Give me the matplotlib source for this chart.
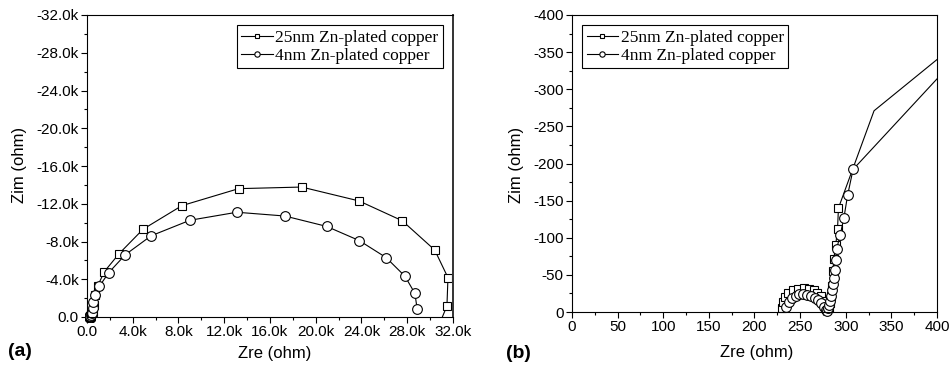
import matplotlib.pyplot as plt
import numpy as np
from matplotlib.lines import Line2D
from matplotlib.ticker import MultipleLocator, FuncFormatter

plt.rcParams['axes.unicode_minus'] = False

# Nyquist data in ohm (Zim keeps its measured sign)
zre_25nm = [230, 231, 233, 237, 242, 248, 254, 260, 265, 269, 273, 276, 278, 280,
            282, 283, 284, 285, 286, 287, 289, 291, 292, 331, 560, 600, 660, 930,
            1510, 2800, 4900, 8300, 13260, 18770, 23780, 27560, 30400, 31560,
            31470, 31000]
zim_25nm = [-5, -13, -20, -25, -29, -31, -32, -31, -29, -26, -21, -15, -8, -3,
            -5, -12, -22, -35, -55, -72, -90, -112, -140, -271, -500, -1300, -2300,
            -3280, -4800, -6700, -9300, -11800, -13600, -13770, -12300, -10200,
            -7100, -4170, -1170, 200]

zre_4nm = [235, 238, 241, 245, 249, 253, 258, 262, 266, 270, 273, 276, 278, 280,
           281, 282, 283, 284, 285, 286, 287, 288, 289, 290, 294, 298, 302, 308,
           480, 510, 560, 730, 1080, 1900, 3350, 5600, 9000, 13100, 17300, 20950,
           23800, 26150, 27800, 28670, 28870]
zim_4nm = [-7, -14, -19, -22, -24, -24, -23, -22, -19, -16, -12, -7, -3, -2,
           -5, -9, -15, -22, -30, -38, -46, -57, -70, -85, -104, -127, -157, -192,
           -420, -1000, -1550, -2330, -3250, -4700, -6600, -8600, -10250, -11100,
           -10700, -9600, -8100, -6300, -4320, -2500, -800]

series_labels = ["25nm Zn-plated copper", "4nm Zn-plated copper"]

sans = 'Liberation Sans'
serif = 'Liberation Serif'


def draw_series(ax, zre, zim, marker, ms, xlim, ylim, mark_upto=None):
    zre = np.asarray(zre, dtype=float)
    zim = np.asarray(zim, dtype=float)
    ax.plot(zre, zim, color='black', lw=0.8)
    # markers only for points inside the frame, but never cut by it
    inside = ((zre >= xlim[0]) & (zre <= xlim[1]) &
              (zim <= ylim[0]) & (zim >= ylim[1]))
    if mark_upto is not None:
        inside &= zre <= mark_upto
    ax.plot(zre[inside], zim[inside], ls='none', marker=marker, ms=ms,
            mfc='white', mec='black', mew=0.8, clip_on=False)


def style_axes(ax, xlim, ylim, xmaj, ymaj, fmt):
    ax.set_xlim(*xlim)
    ax.set_ylim(*ylim)
    ax.xaxis.set_major_locator(MultipleLocator(xmaj))
    ax.xaxis.set_minor_locator(MultipleLocator(xmaj / 2))
    ax.yaxis.set_major_locator(MultipleLocator(ymaj))
    ax.yaxis.set_minor_locator(MultipleLocator(ymaj / 2))
    ax.xaxis.set_major_formatter(FuncFormatter(fmt))
    ax.yaxis.set_major_formatter(FuncFormatter(fmt))
    ax.tick_params(which='major', direction='out', length=4, width=0.8,
                   labelsize=11, pad=2, labelfontfamily=sans)
    ax.tick_params(which='minor', direction='out', length=2.5, width=0.8)
    for sp in ax.spines.values():
        sp.set_linewidth(0.8)


def add_legend(ax, loc):
    handles = [
        Line2D([], [], color='black', lw=0.8, marker='s', ms=6, mfc='white',
               mec='black', mew=0.8),
        Line2D([], [], color='black', lw=0.8, marker='o', ms=7, mfc='white',
               mec='black', mew=0.8),
    ]
    leg = ax.legend(handles, series_labels, loc=loc, numpoints=1,
                    markerscale=0.55, prop={'family': serif, 'size': 12.5},
                    fancybox=False, framealpha=1, edgecolor='black',
                    handlelength=1.8, handletextpad=0.15, labelspacing=0.1,
                    borderpad=0.25, borderaxespad=0.6)
    leg.get_frame().set_linewidth(0.8)


def k_fmt(v, _):
    return '0.0' if abs(v) < 1e-9 else f'{v / 1000:.1f}k'


def int_fmt(v, _):
    return f'{v:.0f}'


fig = plt.figure(figsize=(9.53, 3.67), dpi=100)

# (a) full spectrum
ax_a = fig.add_axes([87 / 953, 1 - 317 / 367, 366 / 953, 302 / 367])
xlim_a, ylim_a = (0, 32000), (0, -32000)
draw_series(ax_a, zre_25nm, zim_25nm, 's', 6, xlim_a, ylim_a)
draw_series(ax_a, zre_4nm, zim_4nm, 'o', 7, xlim_a, ylim_a)
style_axes(ax_a, xlim_a, ylim_a, 4000, 4000, k_fmt)
ax_a.spines['right'].set_linewidth(1.4)
ax_a.spines['right'].set_color('#333333')
add_legend(ax_a, 'upper right')
ax_a.set_xlabel('Zre (ohm)', family=sans, fontsize=12)
ax_a.set_ylabel('Zim (ohm)', family=sans, fontsize=12)
ax_a.xaxis.set_label_coords(0.514, -0.1225)
ax_a.yaxis.set_label_coords(-0.185, 0.503)
ax_a.xaxis.label.set_va('center')
ax_a.yaxis.label.set_va('center')

# (b) high-frequency region, markers on the arc and the first rise only
ax_b = fig.add_axes([572 / 953, 1 - 312 / 367, 365 / 953, 297 / 367])
xlim_b, ylim_b = (0, 400), (0, -400)
draw_series(ax_b, zre_25nm, zim_25nm, 's', 6, xlim_b, ylim_b, mark_upto=320)
draw_series(ax_b, zre_4nm, zim_4nm, 'o', 7, xlim_b, ylim_b, mark_upto=320)
style_axes(ax_b, xlim_b, ylim_b, 50, 50, int_fmt)
add_legend(ax_b, 'upper left')
ax_b.set_xlabel('Zre (ohm)', family=sans, fontsize=12)
ax_b.set_ylabel('Zim (ohm)', family=sans, fontsize=12)
ax_b.xaxis.set_label_coords(0.507, -0.138)
ax_b.yaxis.set_label_coords(-0.151, 0.495)
ax_b.xaxis.label.set_va('center')
ax_b.yaxis.label.set_va('center')

fig.text(20 / 953, 1 - 352 / 367, '(a)', family=sans, fontsize=14,
         fontweight='bold', ha='center', va='center')
fig.text(518 / 953, 1 - 353 / 367, '(b)', family=sans, fontsize=14,
         fontweight='bold', ha='center', va='center')

fig.savefig('out.png', dpi=100)
